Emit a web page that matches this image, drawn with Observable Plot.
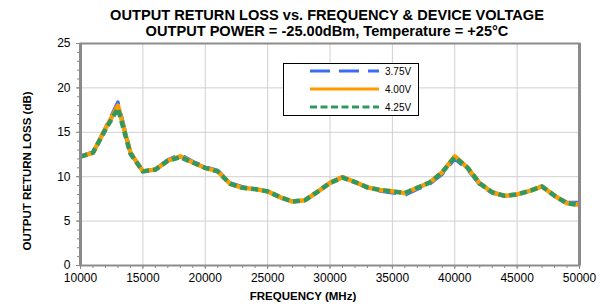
<!DOCTYPE html>
<html>
<head>
<meta charset="utf-8">
<script src="https://cdn.jsdelivr.net/npm/d3@7"></script>
<script src="https://cdn.jsdelivr.net/npm/@observablehq/plot@0.6"></script>
<style>
  html, body { margin: 0; padding: 0; background: #fff; }
  #wrap { position: relative; width: 604px; height: 307px; font-family: "Liberation Sans", Arial, sans-serif; }
  .t { position: absolute; white-space: nowrap; font-weight: bold; color: #000; }
  #legend { position: absolute; left: 283px; top: 63px; width: 136px; height: 53px; border: 1px solid #000; background: #fff; box-sizing: border-box; }
</style>
</head>
<body>
<div id="wrap"></div>
<script>
// ---- data ----
const freq = [10000, 11000, 12000, 13000, 14000, 15000, 16000, 17000, 18000, 19000,
              20000, 21000, 22000, 23000, 24000, 25000, 26000, 27000, 28000, 29000,
              30000, 31000, 32000, 33000, 34000, 35000, 36000, 37000, 38000, 39000,
              40000, 41000, 42000, 43000, 44000, 45000, 46000, 47000, 48000, 49000, 50000];
const rl375 = [12.3, 12.75, 15.5, 18.4, 12.8, 10.6, 10.85, 11.9, 12.5, 11.7,
               11.1, 10.7, 9.3, 8.85, 8.6, 8.35, 7.6, 7.2, 7.35, 8.3,
               9.3, 10.0, 9.4, 8.75, 8.4, 8.2, 7.95, 8.6, 9.2, 10.3,
               12.0, 10.9, 9.1, 8.15, 7.85, 8.0, 8.4, 8.9, 7.9, 7.1, 7.1];
const rl400 = [12.25, 12.7, 15.4, 18.0, 12.7, 10.6, 10.8, 11.8, 12.3, 11.6,
               11.0, 10.6, 9.2, 8.75, 8.6, 8.35, 7.7, 7.2, 7.35, 8.3,
               9.3, 9.95, 9.4, 8.8, 8.5, 8.35, 8.15, 8.75, 9.35, 10.5,
               12.3, 11.05, 9.25, 8.25, 7.85, 8.0, 8.4, 8.9, 7.85, 7.0, 6.85];
const rl425 = [12.25, 12.7, 15.3, 17.7, 12.6, 10.6, 10.8, 11.8, 12.2, 11.6,
               11.0, 10.6, 9.2, 8.75, 8.6, 8.35, 7.7, 7.2, 7.35, 8.3,
               9.3, 9.9, 9.4, 8.8, 8.5, 8.35, 8.15, 8.75, 9.35, 10.5,
               12.2, 11.05, 9.25, 8.25, 7.85, 8.0, 8.4, 8.9, 7.85, 7.0, 6.8];
const seriesNames = ["3.75V", "4.00V", "4.25V"];
const xTicks = [10000, 15000, 20000, 25000, 30000, 35000, 40000, 45000, 50000];
const xMinorTicks = [10000, 11000, 12000, 13000, 14000, 15000, 16000, 17000, 18000, 19000,
                     20000, 21000, 22000, 23000, 24000, 25000, 26000, 27000, 28000, 29000,
                     30000, 31000, 32000, 33000, 34000, 35000, 36000, 37000, 38000, 39000,
                     40000, 41000, 42000, 43000, 44000, 45000, 46000, 47000, 48000, 49000, 50000];
const yTicks = [0, 5, 10, 15, 20, 25];
const yMinorTicks = [0,1,2,3,4,5,6,7,8,9,10,11,12,13,14,15,16,17,18,19,20,21,22,23,24,25];
const titleText = "OUTPUT RETURN LOSS vs. FREQUENCY & DEVICE VOLTAGE";
const subtitleText = "OUTPUT POWER = -25.00dBm, Temperature = +25°C";
const xLabel = "FREQUENCY (MHz)";
const yLabel = "OUTPUT RETURN LOSS (dB)";

// ---- styles ----
const colors = ["#3a6cf4", "#ff9a00", "#2f9960"];
const widths = [3.5, 4.5, 4.5];
const dashes = ["18,9", null, "7,4"];

const tables = [rl375, rl400, rl425].map(arr => freq.map((f, i) => ({f, v: arr[i]})));

const chart = Plot.plot({
  width: 604, height: 307,
  marginLeft: 80, marginRight: 25, marginTop: 43, marginBottom: 42,
  x: {domain: [10000, 50000]},
  y: {domain: [0, 25]},
  style: {fontFamily: "'Liberation Sans', Arial, sans-serif", fontSize: "12px", color: "#000", background: "#fff", overflow: "visible"},
  marks: [
    Plot.gridX(xTicks.slice(1, -1), {stroke: "#d0d0d0", strokeOpacity: 1, strokeWidth: 1}),
    Plot.gridY(yTicks.slice(1, -1), {stroke: "#d0d0d0", strokeOpacity: 1, strokeWidth: 1}),
    Plot.axisX(xMinorTicks, {tickSize: 3, text: null, stroke: "#888", label: null}),
    Plot.axisX(xTicks, {tickSize: 4, stroke: "#888", tickPadding: 4, tickFormat: d => String(d), fontSize: 12, label: null}),
    Plot.axisY(yMinorTicks, {tickSize: 3, text: null, stroke: "#888", label: null}),
    Plot.axisY(yTicks, {tickSize: 4, stroke: "#888", tickPadding: 6, fontSize: 12, label: null}),
    ...tables.map((t, k) => Plot.line(t, {
      x: "f", y: "v", stroke: colors[k], strokeWidth: widths[k],
      strokeDasharray: dashes[k], strokeLinejoin: "round", strokeLinecap: "butt", clip: true
    })),
    Plot.frame({stroke: "#8c8c8c", strokeWidth: 2}),
    Plot.ruleX([10000, 50000], {stroke: "#8a8a8a", strokeWidth: 3})
  ]
});

const wrap = document.getElementById("wrap");
chart.style.position = "absolute";
chart.style.left = "0px";
chart.style.top = "0px";
wrap.appendChild(chart);

function addText(txt, css) {
  const d = document.createElement("div");
  d.className = "t";
  d.textContent = txt;
  Object.assign(d.style, css);
  wrap.appendChild(d);
  return d;
}
addText(titleText, {left: "0px", width: "654px", textAlign: "center", top: "7px", fontSize: "14.6px", lineHeight: "17px"});
addText(subtitleText, {left: "0px", width: "654px", textAlign: "center", top: "23px", fontSize: "14.6px", lineHeight: "17px"});
addText(xLabel, {left: "0px", width: "606px", textAlign: "center", top: "290px", fontSize: "11.5px", lineHeight: "13px"});
addText(yLabel, {left: "27px", top: "171px", fontSize: "11.5px", lineHeight: "13px", transform: "translate(-50%, -50%) rotate(-90deg)"});

// legend
const leg = document.createElement("div");
leg.id = "legend";
const ns = "http://www.w3.org/2000/svg";
const ls = document.createElementNS(ns, "svg");
ls.setAttribute("width", "136"); ls.setAttribute("height", "53");
ls.style.position = "absolute"; ls.style.left = "-1px"; ls.style.top = "-1px";
seriesNames.forEach((name, k) => {
  const y = 8 + k * 18;
  const ln = document.createElementNS(ns, "line");
  ln.setAttribute("x1", 27); ln.setAttribute("x2", 96);
  ln.setAttribute("y1", y); ln.setAttribute("y2", y);
  ln.setAttribute("stroke", colors[k]);
  ln.setAttribute("stroke-width", 3);
  if (dashes[k]) ln.setAttribute("stroke-dasharray", k === 0 ? "20,9" : "7,3.5");
  ls.appendChild(ln);
  const tx = document.createElementNS(ns, "text");
  tx.setAttribute("x", 102); tx.setAttribute("y", y + 3.5);
  tx.setAttribute("font-size", "10");
  tx.setAttribute("font-family", "'Liberation Sans', Arial, sans-serif");
  tx.textContent = name;
  ls.appendChild(tx);
});
leg.appendChild(ls);
wrap.appendChild(leg);
</script>
</body>
</html>
